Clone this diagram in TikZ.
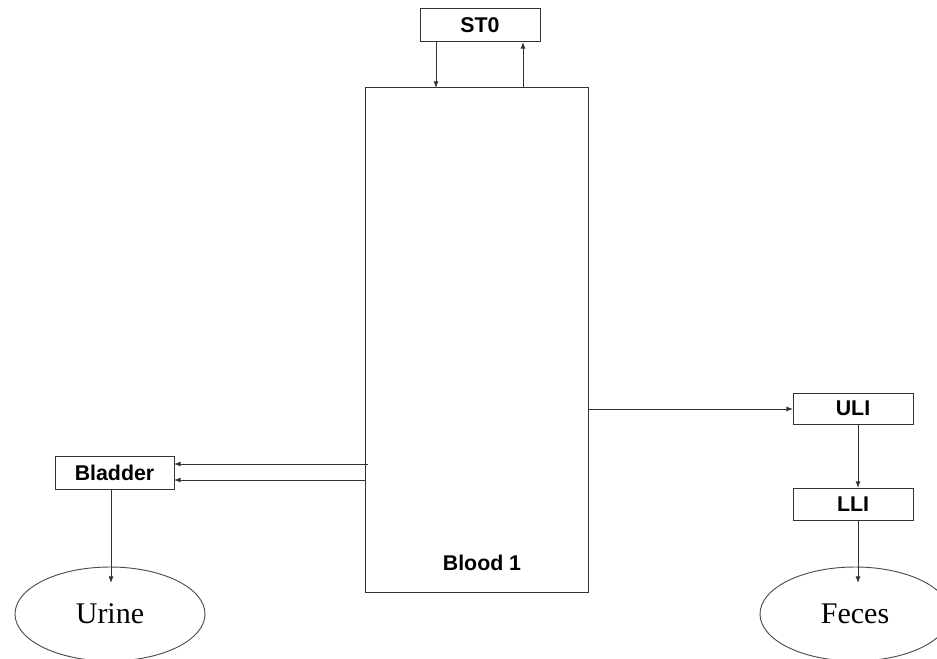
\documentclass[tikz,border=0pt]{standalone}
\usepackage{fontspec}
\setmainfont{Liberation Serif}
\setsansfont{Liberation Sans}
\usetikzlibrary{arrows.meta,shapes.geometric}
\begin{document}
\begin{tikzpicture}[x=0.75pt,y=-0.75pt,
  compbox/.style={draw=black!80,line width=0.75pt,inner sep=0pt,
    font=\sffamily\bfseries\fontsize{16}{18}\selectfont},
  sink/.style={draw=black!70,ellipse,line width=0.7pt,minimum width=142.5pt,minimum height=70.5pt,inner sep=0pt,
    font=\fontsize{22.5}{26}\selectfont},
  flow/.style={draw=black!80,line width=0.75pt,-{Latex[length=5pt,width=3.8pt]}}]
\useasboundingbox (0,0) rectangle (937,659);
\clip (0,0) rectangle (937,659);
% boxes
\node[compbox,minimum width=90pt,minimum height=24.75pt] (st0) at (480,25.5) {ST0};
\node[draw=black!80,line width=0.75pt,minimum width=167.25pt,minimum height=378pt,inner sep=0pt] (blood) at (476.5,340) {};
\node[font=\sffamily\bfseries\fontsize{16}{18}\selectfont] (bloodlabel) at (482,563) {Blood 1};
\node[compbox,minimum width=89.25pt,minimum height=24.75pt] (bladder) at (114.5,472.5) {Bladder};
\node[compbox,minimum width=90pt,minimum height=23.25pt] (uli) at (853,408.5) {ULI};
\node[compbox,minimum width=90pt,minimum height=24pt] (lli) at (853,504) {LLI};
\node[sink] (urine) at (110,614) {Urine};
\node[sink] (feces) at (855,614) {Feces};
% coordinates
\coordinate (st0a) at (436,42);
\coordinate (blooda) at (436,88);
\coordinate (st0b) at (523,42);
\coordinate (bloodb) at (523,88);
\coordinate (bl1) at (368,464);
\coordinate (bd1) at (174,464);
\coordinate (bl2) at (365,480);
\coordinate (bd2) at (174,480);
\coordinate (br) at (588,409);
\coordinate (ul) at (793,409);
\coordinate (bdb) at (111,489);
\coordinate (ur) at (111,583);
\coordinate (ulb) at (858,424);
\coordinate (llt) at (858,488);
\coordinate (llb) at (858,520);
\coordinate (fc) at (858,583);
% connectors
\draw[flow] (st0a) -- (blooda);
\draw[flow] (bloodb) -- (st0b);
\draw[flow] (bl1) -- (bd1);
\draw[flow] (bl2) -- (bd2);
\draw[flow] (br) -- (ul);
\draw[flow] (bdb) -- (ur);
\draw[flow] (ulb) -- (llt);
\draw[flow] (llb) -- (fc);
\end{tikzpicture}
\end{document}
